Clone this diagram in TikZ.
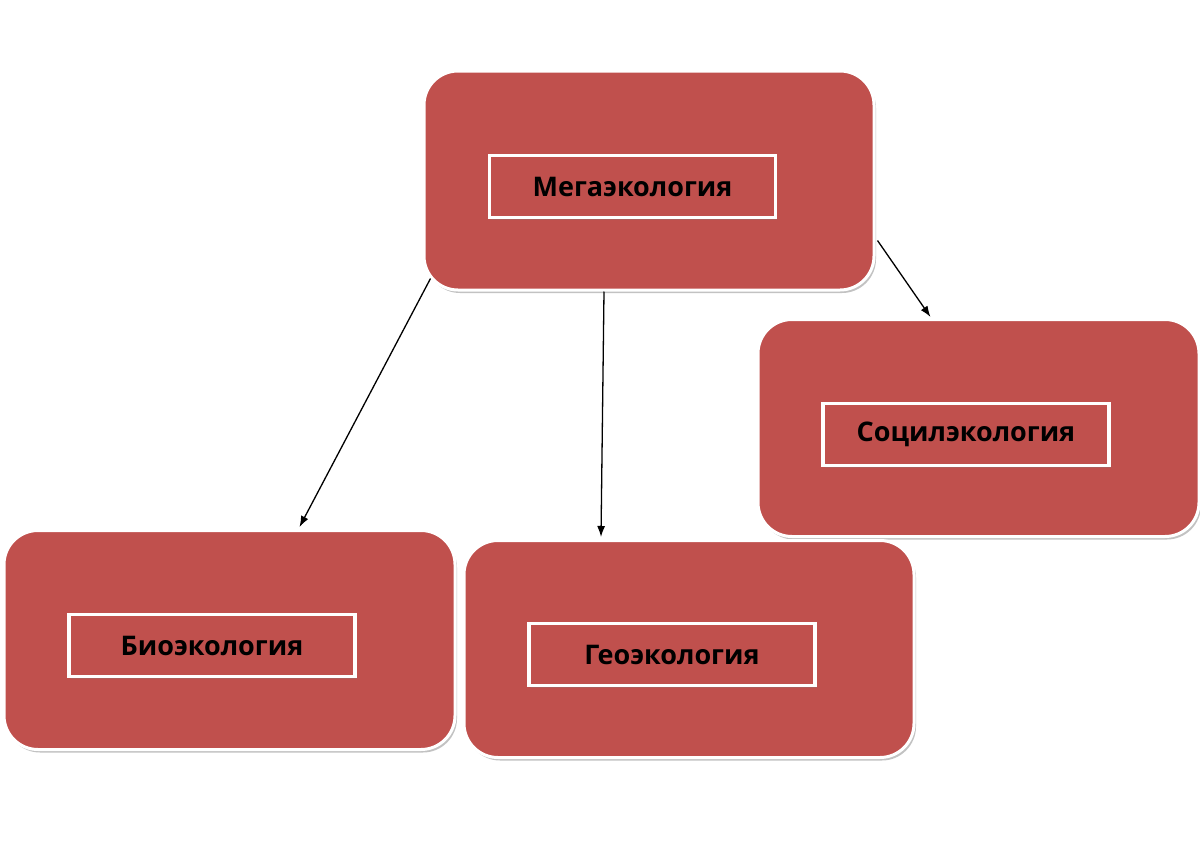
\documentclass[tikz,border=0pt]{standalone}
\usepackage{fontspec}
\setmainfont{Open Sans}
\usepackage{xcolor}
\usetikzlibrary{arrows.meta,shadows,calc}
\definecolor{boxred}{HTML}{C0504D}
\tikzset{
  bigbox/.style={rectangle,rounded corners=34pt,fill=boxred,draw=white,
    line width=3pt,minimum width=#1,minimum height=219pt,
    drop shadow={shadow xshift=2pt,shadow yshift=-3pt,opacity=0.4,fill=black!60}},
  bigbox/.default=450pt,
  labelbox/.style={rectangle,fill=boxred,draw=white,line width=3.5pt,
    minimum width=286pt,minimum height=62pt,
    drop shadow={shadow xshift=1.5pt,shadow yshift=-2pt,opacity=0.3},
    font=\fontsize{27}{31}\selectfont\bfseries,text=black},
  link/.style={-{Latex[length=11pt,width=8pt]},line width=1.3pt,black}
}
\begin{document}
\begin{tikzpicture}[x=1pt,y=-1pt]
      \useasboundingbox (0,0) rectangle (1200,849);
      % main boxes
      \node[bigbox=450pt] (mega) at (649,180.5) {};
      \node[bigbox=441pt,minimum height=217pt] (social) at (978.5,428) {};
      \node[bigbox=451pt] (bio) at (229.5,640) {};
      \node[bigbox=450pt,minimum height=217pt] (geo) at (689,649) {};
    
      % labels
      \node[labelbox] (megatxt) at (632.5,186.5) {Мегаэкология};
      \node[labelbox] (socialtxt) at (966,434.5) {Социлэкология};
      \node[labelbox] (biotxt) at (212,645.5) {Биоэкология};
      \node[labelbox] (geotxt) at (672,654.5) {Геоэкология};
    
      \draw[link] ([xshift=8pt,yshift=13pt]mega.south west) -- ([xshift=70pt,yshift=2pt]bio.north);
      \draw[link] ([xshift=-45pt]mega.south) -- ([xshift=-88pt,yshift=2pt]geo.north);
      \draw[link] ([xshift=2pt,yshift=-60pt]mega.east) -- ([xshift=-48pt,yshift=1pt]social.north);
    \end{tikzpicture}
\end{document}
